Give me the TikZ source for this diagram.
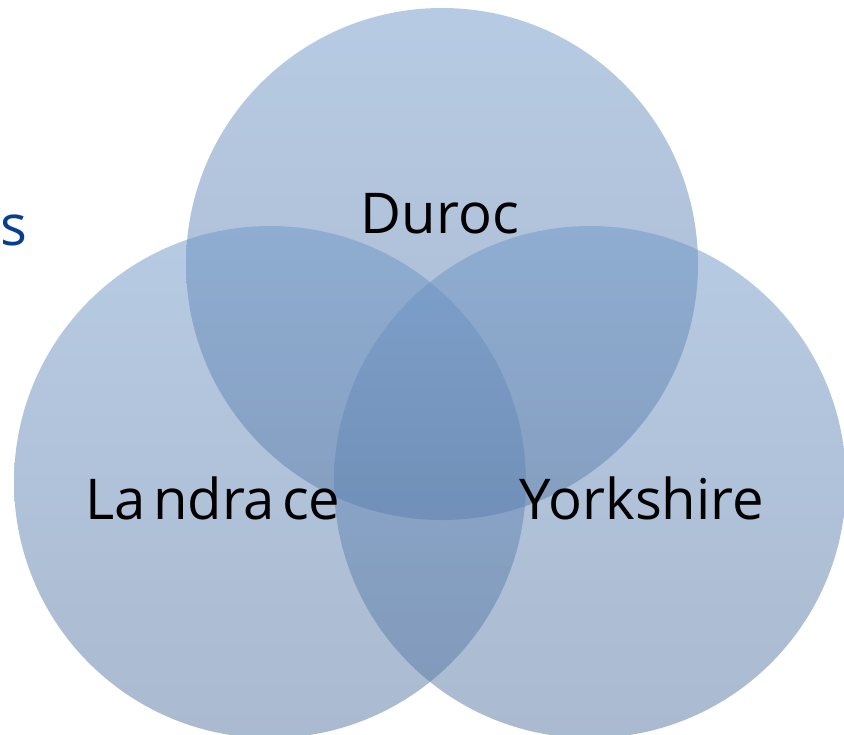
\documentclass[tikz,border=0pt]{standalone}
\usepackage{fontspec}
\setmainfont{Open Sans}
\usepackage{tikz}
\usepackage{xcolor}
\definecolor{venntop}{RGB}{110,151,200}
\definecolor{vennbot}{RGB}{86,117,160}
\definecolor{titleblue}{RGB}{8,62,145}

\begin{document}
\begin{tikzpicture}[x=0.02cm,y=-0.02cm,
    breed/.style={top color=venntop,bottom color=vennbot,fill opacity=0.5},
    lbl/.style={font=\fontsize{32}{38}\selectfont,text=black,inner sep=0pt,anchor=base}]
      \useasboundingbox (0,0) rectangle (844,734);
      \clip (0,0) rectangle (844,734);
      % the three circles
      \shade[breed] (442,264) circle (256);
      \shade[breed] (270,482) circle (256);
      \shade[breed] (590,482) circle (256);
      % labels
      \node[lbl] (duroc) at (440,233) {Duroc};
      \node[lbl] (landrace) at (213,519) {La\hspace{4pt}ndra\hspace{4pt}ce};
      \node[lbl] (yorkshire) at (642,519) {Yorkshire};
      \node[font=\fontsize{32}{38}\selectfont,text=titleblue,inner sep=0pt,anchor=base west] (word) at (0,245) {s};
    \end{tikzpicture}
\end{document}
